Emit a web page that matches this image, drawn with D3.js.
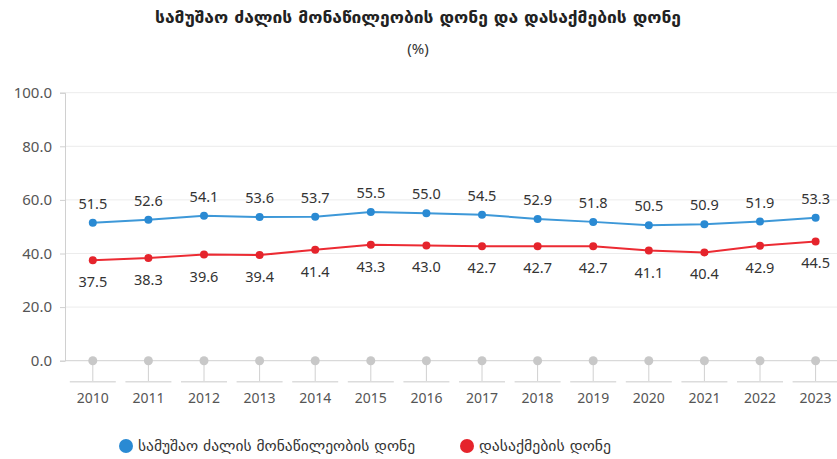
<!DOCTYPE html>
<html>
<head>
<meta charset="utf-8">
<script src="https://cdn.jsdelivr.net/npm/d3@7"></script>
<style>
  body { margin: 0; background: #fff; }
  svg { display: block; }
  .geo { font-family: "DejaVu Sans", sans-serif; }
  .num { font-family: "Noto Sans", "Open Sans", sans-serif; }
</style>
</head>
<body>
<div id="chart"></div>
<script>
// data
var years = ["2010", "2011", "2012", "2013", "2014", "2015", "2016", "2017", "2018", "2019", "2020", "2021", "2022", "2023"];
var participation = [51.5, 52.6, 54.1, 53.6, 53.7, 55.5, 55.0, 54.5, 52.9, 51.8, 50.5, 50.9, 51.9, 53.3];
var employment = [37.5, 38.3, 39.6, 39.4, 41.4, 43.3, 43.0, 42.7, 42.7, 42.7, 41.1, 40.4, 42.9, 44.5];
var yTicks = [0, 20, 40, 60, 80, 100];
var titleText = "სამუშაო ძალის მონაწილეობის დონე და დასაქმების დონე";
var subTitle = "(%)";
var seriesNames = ["სამუშაო ძალის მონაწილეობის დონე", "დასაქმების დონე"];

var cfg = {
  w: 837,
  h: 459,
  left: 65,
  top: 92.7,
  bottom: 360.7,
  blue: "#3d98d8",
  red: "#ec2b33",
  blueDot: "#2a8ad3",
  redDot: "#e5242c"
};

var svg = d3.select("#chart")
  .append("svg")
  .attr("width", cfg.w)
  .attr("height", cfg.h);

var x = d3.scaleBand()
  .domain(years)
  .range([cfg.left, cfg.left + 55.6 * years.length]);

var y = d3.scaleLinear()
  .domain([0, 100])
  .range([cfg.bottom, cfg.top]);

function cx(d) { return x(d) + x.bandwidth() / 2; }

// title (stretched a bit so it spans like the original capitals)
svg.append("text")
  .attr("class", "geo")
  .attr("x", 418).attr("y", 23)
  .attr("text-anchor", "middle")
  .attr("textLength", 526)
  .attr("lengthAdjust", "spacingAndGlyphs")
  .style("font-size", "16px")
  .style("font-weight", "bold")
  .style("fill", "#222")
  .text(titleText);

svg.append("text")
  .attr("class", "num")
  .attr("x", 418).attr("y", 54)
  .attr("text-anchor", "middle")
  .style("font-size", "15px")
  .style("fill", "#333")
  .text(subTitle);

// grid lines
svg.append("g")
  .selectAll("line")
  .data(yTicks.filter(function(d) { return d > 0; }))
  .enter().append("line")
  .attr("x1", cfg.left).attr("x2", cfg.w)
  .attr("y1", function(d) { return y(d); })
  .attr("y2", function(d) { return y(d); })
  .style("stroke", "#ececec")
  .style("stroke-width", 1);

// y axis
var yAxis = svg.append("g")
  .attr("transform", "translate(" + cfg.left + ",0)")
  .call(d3.axisLeft(y).tickValues(yTicks).tickSize(5).tickFormat(d3.format(".1f")));
yAxis.select(".domain").style("stroke", "#d0d0d0");
yAxis.selectAll(".tick line").style("stroke", "#d0d0d0");
yAxis.selectAll("text")
  .attr("class", "num")
  .attr("x", -13)
  .style("font-size", "15px")
  .style("fill", "#555");

// baseline at 0
svg.append("line")
  .attr("x1", cfg.left).attr("x2", cfg.w)
  .attr("y1", y(0)).attr("y2", y(0))
  .style("stroke", "#d0d0d0");

// x axis: stems, dots and underline segments
var xg = svg.append("g").selectAll("g")
  .data(years)
  .enter().append("g");

xg.append("line")
  .attr("x1", cx).attr("x2", cx)
  .attr("y1", y(0)).attr("y2", y(0) + 21)
  .style("stroke", "#d0d0d0");

xg.append("line")
  .attr("x1", function(d) { return cx(d) - 23; })
  .attr("x2", function(d) { return cx(d) + 23; })
  .attr("y1", y(0) + 21).attr("y2", y(0) + 21)
  .style("stroke", "#dcdcdc")
  .style("stroke-width", 1.5);

xg.append("circle")
  .attr("cx", cx).attr("cy", y(0))
  .attr("r", 4.5)
  .style("fill", "#c8c8c8");

xg.append("text")
  .attr("class", "num")
  .attr("x", cx).attr("y", y(0) + 42)
  .attr("text-anchor", "middle")
  .style("font-size", "14px")
  .style("fill", "#555")
  .text(function(d) { return d; });

// series
function drawSeries(values, color, dotColor, labelDy) {
  var pts = years.map(function(yr, i) { return { year: yr, v: values[i] }; });
  var line = d3.line()
    .x(function(d) { return cx(d.year); })
    .y(function(d) { return y(d.v); });

  svg.append("path")
    .datum(pts)
    .attr("d", line)
    .style("fill", "none")
    .style("stroke", color)
    .style("stroke-width", 2);

  svg.append("g").selectAll("circle")
    .data(pts)
    .enter().append("circle")
    .attr("cx", function(d) { return cx(d.year); })
    .attr("cy", function(d) { return y(d.v); })
    .attr("r", 4)
    .style("fill", dotColor);

  svg.append("g").selectAll("text")
    .data(pts)
    .enter().append("text")
    .attr("class", "num")
    .attr("x", function(d) { return cx(d.year); })
    .attr("y", function(d) { return y(d.v) + labelDy; })
    .attr("text-anchor", "middle")
    .style("font-size", "14.5px")
    .style("fill", "#333")
    .text(function(d) { return d3.format(".1f")(d.v); });
}

drawSeries(participation, cfg.blue, cfg.blueDot, -14);
drawSeries(employment, cfg.red, cfg.redDot, 27);

// legend
var legend = [
  { name: seriesNames[0], color: cfg.blueDot, x: 126, len: 277 },
  { name: seriesNames[1], color: cfg.redDot, x: 467, len: 132 }
];
var lg = svg.append("g").selectAll("g")
  .data(legend)
  .enter().append("g");

lg.append("circle")
  .attr("cx", function(d) { return d.x; })
  .attr("cy", 446)
  .attr("r", 7)
  .style("fill", function(d) { return d.color; });

lg.append("text")
  .attr("class", "geo")
  .attr("x", function(d) { return d.x + 12; })
  .attr("y", 451)
  .attr("textLength", function(d) { return d.len; })
  .attr("lengthAdjust", "spacingAndGlyphs")
  .style("font-size", "15px")
  .style("fill", "#333")
  .text(function(d) { return d.name; });
</script>
</body>
</html>
